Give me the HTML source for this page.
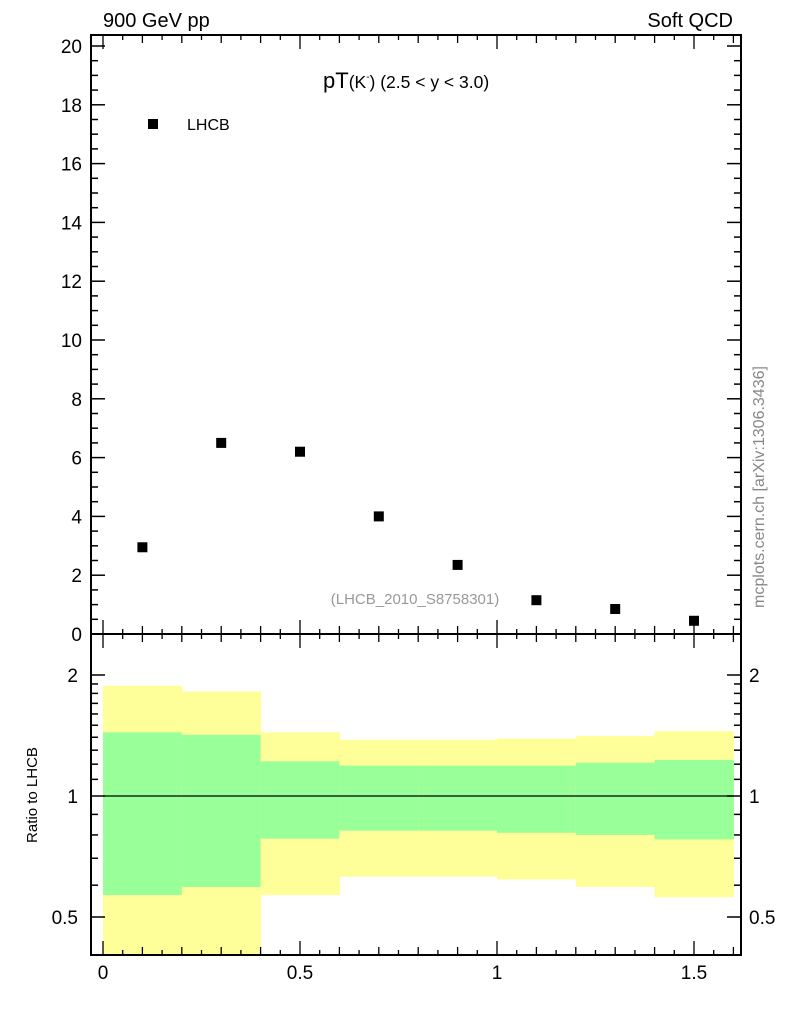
<!DOCTYPE html>
<html><head><meta charset="utf-8"><style>
html,body{margin:0;padding:0;background:#fff;}
svg{display:block;font-family:"Liberation Sans",sans-serif;}
</style></head><body>
<svg id="c" width="786" height="1024" viewBox="0 0 786 1024" xmlns="http://www.w3.org/2000/svg">
<text x="103" y="27" font-size="20">900 GeV pp</text>
<text x="733" y="27" font-size="20" text-anchor="end">Soft QCD</text>
<text x="323" y="88" font-size="22">pT<tspan font-size="17.5">(K</tspan><tspan font-size="10" dy="-8">-</tspan><tspan font-size="17.5" dy="8">) (2.5 &lt; y &lt; 3.0)</tspan></text>
<rect x="148" y="119" width="10" height="10" fill="#000"/>
<text x="187" y="130" font-size="16">LHCB</text>
<text x="415" y="604" font-size="15" fill="#999" text-anchor="middle">(LHCB_2010_S8758301)</text>
<text transform="translate(764,487) rotate(-90)" font-size="16" fill="#888" text-anchor="middle">mcplots.cern.ch [arXiv:1306.3436]</text>
<text transform="translate(37,795) rotate(-90)" font-size="15" text-anchor="middle">Ratio to LHCB</text>
<g id="bands"></g><g id="marks"></g><g id="axes"></g>
</svg>
<script>
const xCenters=[0.1,0.3,0.5,0.7,0.9,1.1,1.3,1.5];
const yValues=[2.95,6.5,6.2,4.0,2.35,1.15,0.85,0.45];
const binEdges=[0,0.2,0.4,0.6,0.8,1.0,1.2,1.4,1.6];
const yellowUp=[1.88,1.82,1.44,1.38,1.38,1.39,1.41,1.45];
const yellowLo=[0.38,0.38,0.567,0.63,0.63,0.62,0.594,0.56];
const greenUp=[1.44,1.42,1.22,1.19,1.19,1.19,1.21,1.23];
const greenLo=[0.567,0.594,0.783,0.82,0.82,0.81,0.80,0.78];
const mainYTicks=[0,2,4,6,8,10,12,14,16,18,20];
const xTickLabels=[0,0.5,1,1.5];
const ratioTickLabels=[0.5,1,2];
</script>
<script>
const NS="http://www.w3.org/2000/svg";
const L=91,R=741,T=35,MB=634,RB=955;
const sx=v=>103+v*394;
const sy=v=>634-v*29.4;
const sr=v=>796-Math.log2(v)*121;
function mk(p,tag,a){const e=document.createElementNS(NS,tag);for(const k in a)e.setAttribute(k,a[k]);p.appendChild(e);return e;}
const bands=document.getElementById('bands'),marks=document.getElementById('marks'),axes=document.getElementById('axes');
for(let i=0;i<8;i++){
  const x0=sx(binEdges[i]),x1=sx(binEdges[i+1]);
  const ylo=Math.max(yellowLo[i],0.402);
  const r1=mk(bands,'rect',{x:x0,y:sr(yellowUp[i]),width:x1-x0+0.5,height:Math.min(RB,sr(ylo))-sr(yellowUp[i]),fill:'#ffff99'});
  
  
  const r2=mk(bands,'rect',{x:x0,y:sr(greenUp[i]),width:x1-x0+0.5,height:sr(greenLo[i])-sr(greenUp[i]),fill:'#99ff99'});
  
  
}
const ln=mk(bands,'line',{x1:sx(0),x2:sx(1.6),y1:sr(1),y2:sr(1),stroke:'#000','stroke-width':1.2});


for(let i=0;i<xCenters.length;i++){
  const m=mk(marks,'rect',{x:sx(xCenters[i])-5,y:sy(yValues[i])-5,width:10,height:10,fill:'#000'});
  
  
}
function line(x1,y1,x2,y2,w){mk(axes,'line',{x1,y1,x2,y2,stroke:'#000','stroke-width':w||1.5});}
const f1=mk(axes,'rect',{x:L,y:T,width:R-L,height:MB-T,fill:'none',stroke:'#000','stroke-width':2});


const f2=mk(axes,'rect',{x:L,y:MB,width:R-L,height:RB-MB,fill:'none',stroke:'#000','stroke-width':2});


for(let k=0;k<=32;k++){const v=k*0.05,x=sx(v);if(x>R)break;
  const len=(k%10==0)?14:(k%2==0?8:5);
  [[T,1],[MB,-1],[MB,1],[RB,-1]].forEach(([y,d])=>line(x,y,x,y+d*len,1.3));}
for(let k=0;k<=40;k++){const v=k*0.5,y=sy(v);if(y<T)break;const len=k%4==0?14:7;
  line(L,y,L+len,y);line(R,y,R-len,y);}
mainYTicks.forEach(v=>{const t=mk(axes,'text',{x:82,y:sy(v)+7,'font-size':19,'text-anchor':'end'});t.textContent=v;
  
  });
const rt=[0.5,0.6,0.7,0.8,0.9,1,1.1,1.2,1.3,1.4,1.5,1.6,1.7,1.8,1.9,2];
rt.forEach(v=>{const y=sr(v),len=ratioTickLabels.includes(v)?14:7;line(L,y,L+len,y);line(R,y,R-len,y);});
ratioTickLabels.forEach(v=>{
  const t=mk(axes,'text',{x:78,y:sr(v)+7,'font-size':19,'text-anchor':'end'});t.textContent=v;
  
  
  const t2=mk(axes,'text',{x:749,y:sr(v)+7,'font-size':19});t2.textContent=v;
  
  });
xTickLabels.forEach(v=>{const t=mk(axes,'text',{x:sx(v),y:979,'font-size':19,'text-anchor':'middle'});t.textContent=v;
  
  });
</script>
</body></html>
